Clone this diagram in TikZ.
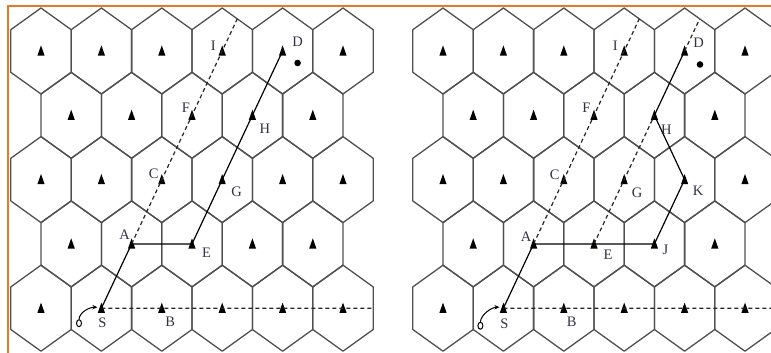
\documentclass[tikz,border=0pt]{standalone}
\usepackage{fontspec}
\setmainfont{Liberation Serif}
\usetikzlibrary{arrows.meta,shapes.geometric}
\definecolor{hexcol}{RGB}{80,80,80}
\definecolor{framecol}{RGB}{234,120,36}
\definecolor{labcol}{RGB}{50,50,68}
\newcommand{\hexat}[2]{\draw[hexline] (#1,#2-43) -- (#1+30.2,#2-21.3) -- (#1+30.2,#2+21.3) -- (#1,#2+43) -- (#1-30.2,#2+21.3) -- (#1-30.2,#2-21.3) -- cycle;}
\begin{document}
\begin{tikzpicture}[x=1pt,y=-1pt,
  hexline/.style={draw=hexcol, line width=1.3pt, line join=round},
  route/.style={draw=black, line width=1.2pt},
  dashroute/.style={draw=black!85, line width=1.2pt, dash pattern=on 4pt off 3pt},
  lab/.style={text=labcol, font=\fontsize{14.5}{14.5}\selectfont, inner sep=0pt},
  dotmark/.style={circle, fill=black, inner sep=0pt, minimum size=6.6pt},
  origin/.style={ellipse, draw=black, line width=1pt, inner sep=0pt, minimum width=5pt, minimum height=7pt},
  hop/.style={draw=black, line width=1pt, -{Stealth[length=5pt,width=4.5pt]}}
]
\useasboundingbox (0,0) rectangle (771,353);
\clip (0,0) rectangle (771,353);
\fill[white] (0,0) rectangle (771,353);

% hexagonal cells with base stations
\foreach \ox/\pn in {0/L,402/R}{
  \foreach \r in {1,...,5}{
    \pgfmathsetmacro{\y}{51+64.3*(\r-1)}
    \pgfmathtruncatemacro{\odd}{mod(\r,2)}
    \ifnum\odd=1 \def\ncol{6}\def\xs{41}\else\def\ncol{5}\def\xs{71.2}\fi
    \foreach \c in {1,...,\ncol}{
      \pgfmathsetmacro{\x}{\ox+\xs+60.4*(\c-1)}
      \hexat{\x}{\y}
      \coordinate (\pn-\r-\c) at (\x,\y);
      \fill[black] ([shift={(-3.6,4.6)}]\pn-\r-\c) -- ([shift={(0,-5.6)}]\pn-\r-\c) -- ([shift={(3.6,4.6)}]\pn-\r-\c) -- cycle;
    }
  }
}

% free ends of dashed lines
\coordinate (Ltop) at (237.2,19);
\coordinate (Lend) at (373.2,308.2);
\coordinate (Rtop1) at (639.2,19);
\coordinate (Rtop2) at (699.6,19);
\coordinate (Rend) at (771,308.2);

% ---------- left panel ----------
\draw[dashroute] (L-5-2) -- (Lend);
\draw[dashroute] (L-4-2) -- (L-3-3) -- (L-2-3) -- (L-1-4) -- (Ltop);
\draw[route] (L-5-2) -- (L-4-2) -- (L-4-3) -- (L-3-4) -- (L-2-4) -- (L-1-5);

\node[lab] (lI) at ([shift={(-9,-5.5)}]L-1-4) {I};
\node[lab] (lD) at ([shift={(15,-9.5)}]L-1-5) {D};
\node[dotmark] (lDot) at ([shift={(15,12)}]L-1-5) {};
\node[lab] (lF) at ([shift={(-6,-8)}]L-2-3) {F};
\node[lab] (lH) at ([shift={(12.5,13)}]L-2-4) {H};
\node[lab] (lC) at ([shift={(-8,-5.5)}]L-3-3) {C};
\node[lab] (lG) at ([shift={(14.5,12.5)}]L-3-4) {G};
\node[lab] (lA) at ([shift={(-7,-9)}]L-4-2) {A};
\node[lab] (lE) at ([shift={(14.5,8.5)}]L-4-3) {E};
\node[lab] (lS) at ([shift={(1,15)}]L-5-2) {S};
\node[lab] (lB) at ([shift={(8.5,14)}]L-5-3) {B};
\node[origin] (lO) at ([shift={(-22.4,15)}]L-5-2) {};
\draw[hop] (lO.north) .. controls +(1,-8) and +(-7,0) .. ([shift={(-4,-1)}]L-5-2);

% ---------- right panel ----------
\draw[dashroute] (R-5-2) -- (Rend);
\draw[dashroute] (R-4-2) -- (R-3-3) -- (R-2-3) -- (R-1-4) -- (Rtop1);
\draw[dashroute] (R-4-3) -- (R-3-4) -- (R-2-4);
\draw[dashroute] (R-1-5) -- (Rtop2);
\draw[route] (R-5-2) -- (R-4-2) -- (R-4-3) -- (R-4-4) -- (R-3-5) -- (R-2-4) -- (R-1-5);

\node[lab] (rI) at ([shift={(-9,-5.5)}]R-1-4) {I};
\node[lab] (rD) at ([shift={(14,-8.5)}]R-1-5) {D};
\node[dotmark] (rDot) at ([shift={(15.4,13.5)}]R-1-5) {};
\node[lab] (rF) at ([shift={(-7.5,-8)}]R-2-3) {F};
\node[lab] (rH) at ([shift={(12,14.5)}]R-2-4) {H};
\node[lab] (rC) at ([shift={(-9,-5)}]R-3-3) {C};
\node[lab] (rG) at ([shift={(13,13)}]R-3-4) {G};
\node[lab] (rK) at ([shift={(13.5,11.5)}]R-3-5) {K};
\node[lab] (rA) at ([shift={(-7.5,-7)}]R-4-2) {A};
\node[lab] (rE) at ([shift={(14,11)}]R-4-3) {E};
\node[lab] (rJ) at ([shift={(11,6)}]R-4-4) {J};
\node[lab] (rS) at ([shift={(1,16)}]R-5-2) {S};
\node[lab] (rB) at ([shift={(8,14)}]R-5-3) {B};
\node[origin] (rO) at ([shift={(-23,17.5)}]R-5-2) {};
\draw[hop] (rO.north) .. controls +(1,-8) and +(-7,0) .. ([shift={(-4,-1)}]R-5-2);

% orange frame (top and left edges)
\draw[framecol, line width=2pt] (8.3,353) -- (8.3,5.7) -- (771,5.7);
\end{tikzpicture}
\end{document}
